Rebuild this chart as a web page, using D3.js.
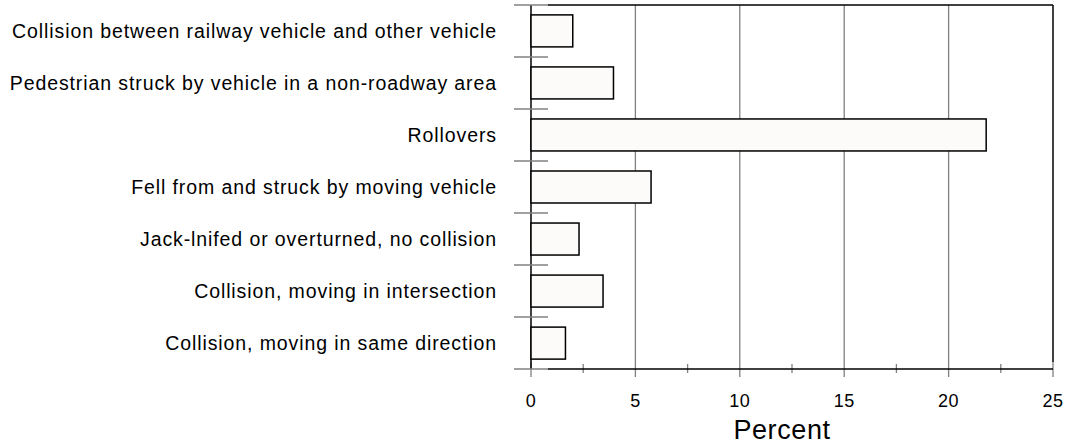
<!DOCTYPE html>
<html>
<head>
<meta charset="utf-8">
<script src="https://cdn.jsdelivr.net/npm/d3@7"></script>
<style>
  body { margin: 0; background: #fff; }
  text { font-family: "Liberation Sans", Arial, sans-serif; fill: #000; }
</style>
</head>
<body>
<div id="chart"></div>
<script>
var categories = [
  "Collision between railway vehicle and other vehicle",
  "Pedestrian struck by vehicle in a non-roadway area",
  "Rollovers",
  "Fell from and struck by moving vehicle",
  "Jack-lnifed or overturned, no collision",
  "Collision, moving in intersection",
  "Collision, moving in same direction"
];
var percent = [2.0, 3.95, 21.8, 5.75, 2.3, 3.45, 1.65];
var xTicks = [0, 5, 10, 15, 20, 25];
var xMinor = [2.5, 7.5, 12.5, 17.5, 22.5];

var W = 1071, H = 446;
var margin = {top: 5, right: 18, bottom: 77, left: 531};
var width = W - margin.left - margin.right,
    height = H - margin.top - margin.bottom;

var svg = d3.select("#chart").append("svg")
  .attr("width", W).attr("height", H)
  .append("g")
  .attr("transform", "translate(" + margin.left + "," + margin.top + ")");

var x = d3.scaleLinear().domain([0, 25]).range([0, width]);
var y = d3.scaleBand().domain(categories).range([0, height]).paddingInner(0.385).paddingOuter(0.19);
var band = d3.scaleBand().domain(categories).range([0, height]);

// grid lines
svg.selectAll(".grid").data(xTicks.slice(1, -1)).enter().append("line")
  .attr("x1", d => x(d)).attr("x2", d => x(d))
  .attr("y1", 0).attr("y2", height + 8)
  .attr("stroke", "#808080").attr("stroke-width", 1.3);

// major tick stubs at 0 and 25
svg.selectAll(".mt").data([0, 25]).enter().append("line")
  .attr("x1", d => x(d)).attr("x2", d => x(d))
  .attr("y1", height - 7).attr("y2", height + 8)
  .attr("stroke", "#808080").attr("stroke-width", 1.3);

// minor ticks
svg.selectAll(".minor").data(xMinor).enter().append("line")
  .attr("x1", d => x(d)).attr("x2", d => x(d))
  .attr("y1", height - 5).attr("y2", height + 4)
  .attr("stroke", "#808080").attr("stroke-width", 1.3);

// frame
svg.append("line").attr("x1", 17).attr("x2", width).attr("y1", 0).attr("y2", 0)
  .attr("stroke", "#000").attr("stroke-width", 1.5);
svg.append("line").attr("x1", width).attr("x2", width).attr("y1", 0).attr("y2", height - 7)
  .attr("stroke", "#000").attr("stroke-width", 1.5);
svg.append("line").attr("x1", 17).attr("x2", width).attr("y1", height).attr("y2", height)
  .attr("stroke", "#000").attr("stroke-width", 1.5);
svg.append("line").attr("x1", 0).attr("x2", 0).attr("y1", 0).attr("y2", height)
  .attr("stroke", "#000").attr("stroke-width", 1.5);

// band separators on the left axis
var seps = categories.map(c => band(c)).concat([height]);
svg.selectAll(".sep").data(seps).enter().append("line")
  .attr("x1", -17).attr("x2", 17)
  .attr("y1", d => d).attr("y2", d => d)
  .attr("stroke", "#808080").attr("stroke-width", 1.3);

// bars
svg.selectAll(".bar").data(categories).enter().append("rect")
  .attr("x", 0)
  .attr("y", d => y(d))
  .attr("width", (d, i) => x(percent[i]))
  .attr("height", y.bandwidth())
  .attr("fill", "#fcfbfa")
  .attr("stroke", "#000").attr("stroke-width", 1.5);

// category labels
svg.selectAll(".cat").data(categories).enter().append("text")
  .attr("x", -34)
  .attr("y", d => band(d) + band.bandwidth() / 2)
  .attr("dy", "0.35em")
  .attr("text-anchor", "end")
  .style("font-size", "19.5px")
  .style("letter-spacing", "0.9px")
  .text(d => d);

// x tick labels
svg.selectAll(".xl").data(xTicks).enter().append("text")
  .attr("x", d => x(d))
  .attr("y", height + 38)
  .attr("text-anchor", "middle")
  .style("font-size", "18px")
  .style("letter-spacing", "0.5px")
  .text(d => d);

svg.append("text")
  .attr("x", width / 2 - 10)
  .attr("y", height + 70)
  .attr("text-anchor", "middle")
  .style("font-size", "27px")
  .style("letter-spacing", "0.6px")
  .text("Percent");
</script>
</body>
</html>
